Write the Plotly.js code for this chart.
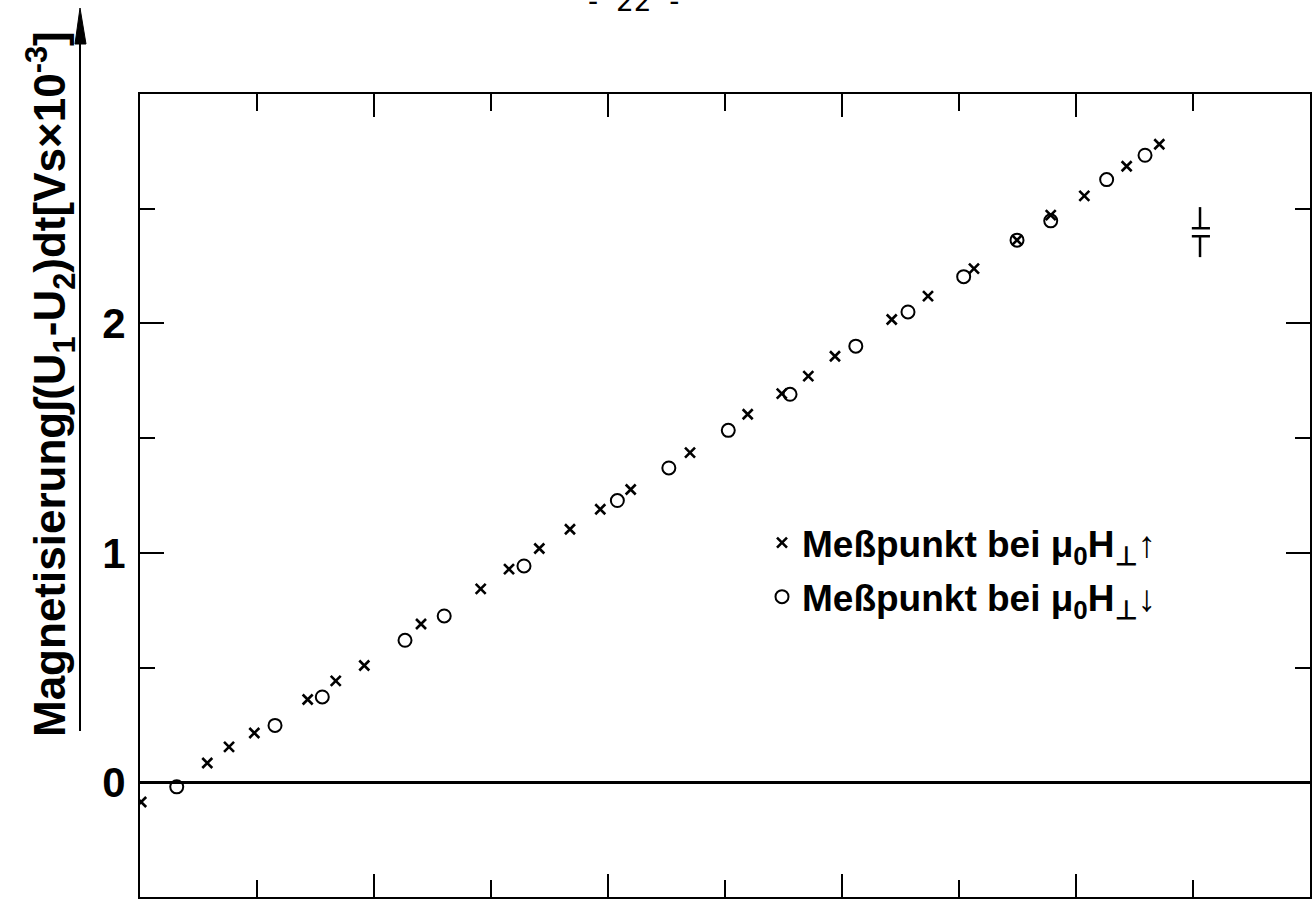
<!DOCTYPE html>
<html>
<head>
<meta charset="utf-8">
<script src="https://cdn.plot.ly/plotly-3.0.1.min.js"></script>
<style>
  html, body { margin: 0; padding: 0; background: #ffffff; }
  #chart { width: 1316px; height: 899px; }
</style>
</head>
<body>
<div id="chart"></div>
<script>
// Measured points, field increasing (×)
const fieldUp = [0.01, 0.575, 0.761, 0.977, 1.433, 1.673, 1.917, 2.402, 2.912, 3.154,
                 3.413, 3.675, 3.934, 4.194, 4.701, 5.194, 5.485, 5.712, 5.940, 6.425,
                 6.735, 7.128, 7.496, 7.784, 8.071, 8.433, 8.712];
const magUp   = [-0.086, 0.084, 0.154, 0.215, 0.361, 0.442, 0.509, 0.690, 0.843, 0.929,
                 1.019, 1.103, 1.190, 1.276, 1.437, 1.604, 1.694, 1.770, 1.857, 2.017,
                 2.119, 2.239, 2.363, 2.472, 2.556, 2.685, 2.781];

// Measured points, field decreasing (○)
const fieldDown = [0.314, 1.154, 1.558, 2.265, 2.600, 3.282, 4.080, 4.520, 5.028, 5.556,
                   6.118, 6.564, 7.040, 7.496, 7.784, 8.262, 8.590];
const magDown   = [-0.020, 0.248, 0.372, 0.619, 0.725, 0.943, 1.228, 1.370, 1.534, 1.691,
                   1.901, 2.050, 2.204, 2.363, 2.447, 2.627, 2.733];

// Axis ticks
const xMajorTicks = [2, 4, 6, 8];
const xMinorTicks = [1, 3, 5, 7, 9];
const yMajorTicks = [0, 1, 2];
const yTickLabels = ['0', '1', '2'];
const yMinorTicks = [0.5, 1.5, 2.5];

const seriesNames = [
  'Meßpunkt bei μ<sub>0</sub>H<sub>⊥</sub>↑',
  'Meßpunkt bei μ<sub>0</sub>H<sub>⊥</sub>↓'
];
const axisTitle = 'Magnetisierung∫(U<sub>1</sub>-U<sub>2</sub>)dt[Vs×10<sup>-3</sup>]';
const pageLabel = '-  22  -';

const boldFont = 'Liberation Sans, Arial, sans-serif';

// pixel -> paper helpers for decorations outside the plot area
const W = 1316, H = 899, ML = 140, MR = 6, MT = 94, MB = 2;
const PW = W - ML - MR, PH = H - MT - MB;
const px = v => (v - ML) / PW;
const py = v => (H - MB - v) / PH;

const traces = [
  {
    x: fieldUp, y: magUp, type: 'scatter', mode: 'markers', name: seriesNames[0],
    legendgroup: 'up',
    marker: { symbol: 'x-thin', size: 10, color: '#000', line: { width: 2.6, color: '#000' } }
  },
  {
    x: fieldDown, y: magDown, type: 'scatter', mode: 'markers', name: seriesNames[1],
    legendgroup: 'down',
    marker: { symbol: 'circle-open', size: 13, color: '#000', line: { width: 2, color: '#000' } }
  }
];

const axisCommon = {
  showgrid: false, showline: true, linecolor: '#000', linewidth: 2,
  mirror: 'ticks', ticks: 'inside', tickcolor: '#000', tickwidth: 2,
  tickmode: 'array'
};

const layout = {
  width: W, height: H,
  margin: { l: ML, r: MR, t: MT, b: MB, pad: 0 },
  paper_bgcolor: '#fff', plot_bgcolor: '#fff',
  showlegend: true,
  legend: {
    x: px(762), y: py(512), xanchor: 'left', yanchor: 'top',
    bgcolor: 'rgba(0,0,0,0)', borderwidth: 0,
    traceorder: 'grouped', tracegroupgap: 3,
    font: { family: boldFont, size: 37, color: '#000', weight: 'bold' }
  },
  xaxis: Object.assign({}, axisCommon, {
    range: [0, 10], zeroline: false,
    tickvals: xMajorTicks, ticklen: 23, showticklabels: false,
    minor: { tickmode: 'array', tickvals: xMinorTicks, ticks: 'inside', ticklen: 17,
             tickcolor: '#000', tickwidth: 2, showgrid: false }
  }),
  yaxis: Object.assign({}, axisCommon, {
    range: [-0.5, 3], zeroline: true, zerolinecolor: '#000', zerolinewidth: 2.5,
    tickvals: yMajorTicks, ticktext: yTickLabels, ticklen: 24,
    ticklabelstandoff: 4,
    tickfont: { family: boldFont, size: 42, color: '#000', weight: 'bold' },
    minor: { tickmode: 'array', tickvals: yMinorTicks, ticks: 'inside', ticklen: 15,
             tickcolor: '#000', tickwidth: 2, showgrid: false }
  }),
  annotations: [
    {
      xref: 'paper', yref: 'paper', x: px(50), y: py(384),
      xanchor: 'center', yanchor: 'middle', textangle: -90, showarrow: false,
      text: axisTitle,
      font: { family: boldFont, size: 44, color: '#000', weight: 'bold' }
    },
    {
      xref: 'paper', yref: 'paper', x: px(633), y: py(2),
      xanchor: 'center', yanchor: 'middle', showarrow: false,
      text: pageLabel,
      font: { family: 'DejaVu Sans, sans-serif', size: 28, color: '#000' }
    }
  ],
  shapes: [
    // axis-title rule with arrow
    { type: 'line', xref: 'paper', yref: 'paper', x0: px(80), x1: px(80), y0: py(731), y1: py(40),
      line: { color: '#000', width: 2 } },
    { type: 'path', xref: 'paper', yref: 'paper',
      path: 'M ' + px(80) + ' ' + py(8) + ' L ' + px(75) + ' ' + py(44) + ' L ' + px(86) + ' ' + py(44) + ' Z',
      fillcolor: '#000', line: { color: '#000', width: 1 } },
    // error scale glyph
    { type: 'line', xref: 'x', yref: 'y', x0: 9.06, x1: 9.06, y0: 2.507, y1: 2.415, line: { color: '#000', width: 2.5 } },
    { type: 'line', xref: 'x', yref: 'y', x0: 8.99, x1: 9.145, y0: 2.415, y1: 2.415, line: { color: '#000', width: 2.5 } },
    { type: 'line', xref: 'x', yref: 'y', x0: 8.99, x1: 9.145, y0: 2.380, y1: 2.380, line: { color: '#000', width: 2.5 } },
    { type: 'line', xref: 'x', yref: 'y', x0: 9.06, x1: 9.06, y0: 2.380, y1: 2.289, line: { color: '#000', width: 2.5 } }
  ]
};

Plotly.newPlot('chart', traces, layout, { displayModeBar: false, staticPlot: true });
</script>
</body>
</html>
